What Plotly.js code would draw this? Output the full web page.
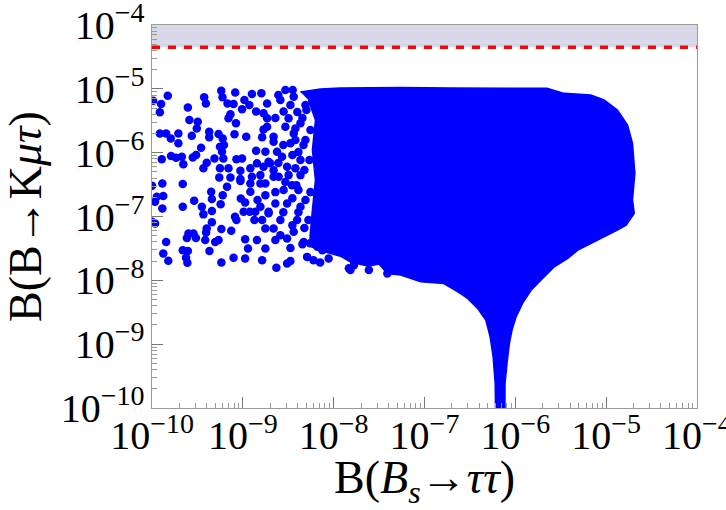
<!DOCTYPE html>
<html>
<head>
<meta charset="utf-8">
<script src="https://cdn.plot.ly/plotly-3.0.1.min.js"></script>
<style>html,body{margin:0;padding:0;background:#fff;}#chart{width:726px;height:510px;}</style>
</head>
<body>
<div id="chart"></div>
<script>
// Axis extent and experimental upper limit on B(B→Kμτ)
var axisMin = 1e-10;
var axisMax = 1e-4;
var expLimit = 4.5e-5;

// Outline of the densely filled region
var denseEdgeX = [4.31e-9, 7.15e-9, 1.19e-8, 5.46e-8, 1.95e-7, 6.93e-7, 2.23e-6, 3.44e-6, 6.77e-6, 9.5e-6,
  1.33e-5, 1.72e-5, 1.95e-5, 2.07e-5, 1.95e-5, 2.04e-5, 1.66e-5, 1.33e-5, 8.0e-6, 4.87e-6,
  3.78e-6, 2.69e-6, 1.92e-6, 1.49e-6, 1.20e-6, 1.02e-6, 9.2e-7, 8.6e-7, 8.1e-7, 7.7e-7,
  7.67e-7, 6.1e-7, 6.0e-7, 5.7e-7, 5.28e-7, 4.73e-7, 3.84e-7, 2.98e-7, 2.38e-7, 1.95e-7,
  1.63e-7, 9.1e-8, 5.46e-8, 3.90e-8, 3.15e-8, 2.42e-8, 1.53e-8, 1.19e-8, 8.1e-9, 5.5e-9,
  5.5e-9, 5.83e-9, 6.3e-9, 5.83e-9, 6.3e-9, 5.27e-9];
var denseEdgeY = [8.9e-6, 9.9e-6, 1.03e-5, 1.05e-5, 1.03e-5, 1.03e-5, 1.02e-5, 8.5e-6, 8.0e-6, 6.7e-6,
  4.66e-6, 2.71e-6, 1.40e-6, 4.74e-7, 1.81e-7, 1.12e-7, 7.3e-8, 6.1e-8, 4.27e-8, 2.97e-8,
  2.2e-8, 1.63e-8, 1.01e-8, 7.0e-9, 4.35e-9, 2.68e-9, 1.66e-9, 1.03e-9, 5.0e-10, 2.42e-10,
  5e-11, 5e-11, 2.42e-10, 6.3e-10, 1.30e-9, 2.38e-9, 3.63e-9, 5.2e-9, 6.5e-9, 7.8e-9,
  8.9e-9, 9.5e-9, 1.21e-8, 1.28e-8, 1.80e-8, 1.67e-8, 1.93e-8, 2.39e-8, 2.77e-8, 3.43e-8,
  4.93e-8, 1.26e-7, 3.72e-7, 1.10e-6, 3.24e-6, 6.7e-6];

// Individually visible scan points
var sparseX = [1.03e-10, 1.49e-10, 1.26e-10, 1.22e-10, 2.48e-10, 3.75e-10, 3.92e-10, 5.78e-10, 5.97e-10, 8.24e-10,
  6.78e-10, 7.9e-10, 1.04e-9, 1.26e-9, 1.60e-9, 9.8e-10, 1.18e-9, 1.40e-9, 7.3e-10, 6.95e-10,
  8.4e-10, 1.85e-9, 1.85e-9, 2.58e-10, 3.19e-10, 3.11e-10, 1.22e-10, 1.43e-10, 1.61e-10, 1.95e-10,
  1.95e-10, 2.74e-10, 4.26e-10, 4.26e-10, 5.4e-10, 6.0e-10, 8.1e-10, 1.09e-9, 1.69e-9, 1.63e-9,
  6.2e-10, 5.6e-10, 3.47e-10, 5.9e-10, 1.40e-9, 1.77e-9, 1.28e-10, 1.62e-10, 1.84e-10, 2.13e-10,
  2.21e-10, 2.81e-10, 3.06e-10, 4.0e-10, 3.68e-10, 4.87e-10, 6.1e-10, 8.5e-10, 9.8e-10, 5.6e-10,
  6.95e-10, 9.4e-10, 1.21e-9, 1.43e-9, 1.69e-9, 1.92e-9, 1.56e-9, 5.5e-10, 7.3e-10, 9.4e-10,
  1.26e-9, 1.0e-10, 1.30e-10, 2.18e-10, 1.33e-10, 1.13e-10, 1.08e-10, 1.30e-10, 2.18e-10, 2.91e-10,
  3.54e-10, 3.68e-10, 4.56e-10, 5.7e-10, 6.0e-10, 4.56e-10, 4.48e-10, 6.7e-10, 9.4e-10, 1.21e-9,
  1.21e-9, 1.56e-9, 9.5e-10, 1.06e-9, 1.45e-9, 1.02e-9, 1.19e-9, 1.37e-9, 1.56e-9, 1.92e-9,
  8.2e-10, 8.5e-10, 1.34e-9, 1.63e-9, 1.77e-9, 1.0e-10, 1.08e-10, 4.56e-10, 4.0e-10, 5.8e-10,
  7.45e-10, 2.52e-10, 2.86e-10, 2.42e-10, 3.04e-10, 3.94e-10, 3.85e-10, 4.96e-10, 5.4e-10, 1.06e-9,
  1.43e-9, 1.77e-9, 1.14e-9, 1.43e-10, 1.33e-10, 1.51e-10, 2.18e-10, 2.48e-10, 2.37e-10, 2.45e-10,
  4.29e-10, 5.8e-10, 7.9e-10, 1.06e-9, 1.63e-9, 2.34e-9, 3.07e-9, 3.34e-9, 5.1e-9, 6.0e-9,
  7.1e-9, 8.8e-9, 1.47e-8, 1.67e-8, 2.44e-8, 3.54e-9, 3.63e-9, 1.69e-9, 1.85e-9, 2.18e-9,
  2.18e-9, 2.38e-9, 2.70e-9, 2.0e-9, 2.18e-9, 2.81e-9, 3.19e-9, 2.94e-9, 3.79e-9, 3.63e-9,
  3.34e-9, 4.31e-9, 3.07e-9, 3.19e-9, 2.48e-9, 1.77e-9, 2.18e-9, 1.77e-9, 2.28e-9, 1.92e-9,
  2.81e-9, 3.48e-9, 3.07e-9, 2.59e-9, 2.18e-9, 2.59e-9, 3.07e-9, 3.96e-9, 3.63e-9, 4.31e-9,
  4.68e-9, 5.5e-9, 6.6e-9, 7.5e-9, 4.31e-9, 4.65e-9, 4.09e-9, 4.89e-9, 4.31e-9, 3.98e-9,
  2.46e-9, 2.94e-9, 1.53e-8, 3.9e-8,
  5.01e-9, 4.53e-9, 5.55e-9, 4.89e-9, 4.09e-9, 5.41e-9, 4.76e-9, 3.88e-9, 5.55e-9, 4.89e-9,
  4.09e-9, 5.27e-9, 4.76e-9, 4.53e-9,
  2.59e-9, 3.34e-9, 2.28e-9, 3.79e-9, 2.79e-9, 3.51e-9, 2.46e-9, 3.79e-9, 2.94e-9, 2.28e-9,
  3.51e-9, 2.79e-9, 3.51e-9, 2.28e-9, 3.34e-9];
var sparseY = [6.5e-6, 7.8e-6, 5.8e-6, 4.3e-6, 5.1e-6, 7.4e-6, 5.9e-6, 9.3e-6, 7.4e-6, 8.8e-6,
  5.9e-6, 5.8e-6, 6.7e-6, 8.3e-6, 8.5e-6, 4.8e-6, 5.6e-6, 4.4e-6, 4.0e-6, 3.45e-6,
  2.9e-6, 5.9e-6, 3.45e-6, 3.24e-6, 3.05e-6, 2.4e-6, 2.0e-6, 2.0e-6, 1.67e-6, 2.0e-6,
  1.40e-6, 1.84e-6, 2.13e-6, 1.74e-6, 1.96e-6, 1.67e-6, 1.94e-6, 1.78e-6, 2.3e-6, 1.74e-6,
  1.32e-6, 1.24e-6, 1.19e-6, 1.03e-6, 1.07e-6, 1.03e-6, 7.9e-7, 8.9e-7, 8.3e-7, 8.6e-7,
  6.6e-7, 8.4e-7, 9.2e-7, 6.95e-7, 5.7e-7, 8.1e-7, 8.1e-7, 7.9e-7, 8.1e-7, 5.7e-7,
  5.7e-7, 5.2e-7, 5.7e-7, 6.8e-7, 6.0e-7, 7.2e-7, 4.45e-7, 4.1e-7, 4.1e-7, 3.86e-7,
  4.2e-7, 3.03e-7, 3.3e-7, 3.22e-7, 2.09e-7, 2.04e-7, 1.70e-7, 1.34e-7, 1.42e-7, 1.76e-7,
  1.42e-7, 1.08e-7, 1.22e-7, 1.55e-7, 2.16e-7, 1.88e-7, 2.44e-7, 2.92e-7, 3.6e-7, 3.3e-7,
  2.44e-7, 3.3e-7, 1.92e-7, 1.66e-7, 1.81e-7, 1.19e-7, 1.19e-7, 1.19e-7, 1.42e-7, 1.19e-7,
  9.9e-8, 8.8e-8, 8.8e-8, 8.8e-8, 6.5e-8, 8.3e-8, 7.8e-8, 8.1e-8, 6.5e-8, 6.35e-8,
  5.97e-8, 5.4e-8, 5.4e-8, 4.6e-8, 4.6e-8, 5.6e-8, 4.27e-8, 4.0e-8, 4.27e-8, 4.4e-8,
  4.27e-8, 3.16e-8, 3.16e-8, 4.0e-8, 2.64e-8, 2.02e-8, 2.97e-8, 2.87e-8, 2.25e-8, 1.88e-8,
  2.87e-8, 1.91e-8, 2.25e-8, 2.2e-8, 2.07e-8, 1.57e-8, 1.84e-8, 2.0e-8, 2.33e-8, 2.07e-8,
  1.91e-8, 2.2e-8, 1.54e-8, 1.73e-8, 1.45e-8, 9.6e-6, 7.5e-6, 4.13e-6, 2.55e-6, 1.78e-6,
  1.48e-6, 1.03e-6, 8.6e-7, 6.8e-7, 5.3e-7, 4.4e-6, 3.45e-6, 2.55e-6, 2.4e-6, 2.0e-6,
  1.40e-6, 2.88e-6, 6.0e-7, 4.45e-7, 4.2e-7, 3.3e-7, 4.2e-7, 2.16e-7, 1.60e-7, 1.12e-7,
  2.6e-7, 3.1e-7, 1.60e-7, 8.8e-8, 6.5e-8, 5.1e-8, 4.54e-8, 8.8e-8, 5.75e-8, 1.42e-7,
  4.0e-8, 3.8e-8, 3.35e-8, 2.97e-8, 7.7e-7, 1.32e-6, 2.6e-7, 5.6e-6, 4.45e-7, 4.33e-6,
  8.0e-6, 9.6e-6, 1.45e-8, 1.28e-8,
  4.66e-6, 3.48e-6, 2.26e-6, 1.58e-6, 1.02e-6, 7.66e-7, 5.33e-7, 3.10e-7, 2.41e-7, 1.81e-7,
  1.17e-7, 8.8e-8, 6.58e-8, 3.69e-8,
  6.67e-6, 5.57e-6, 3.48e-6, 1.58e-6, 1.32e-6, 9.2e-7, 6.9e-7, 5.7e-7, 3.46e-7, 2.41e-7,
  1.94e-7, 1.17e-7, 7.3e-8, 4.27e-8, 3.2e-8];

var blue = '#0000ff';
var serif = 'Liberation Serif, Times New Roman, serif';

var traces = [
  { // excluded region above the limit
    x: [axisMin, axisMax, axisMax, axisMin],
    y: [expLimit, expLimit, axisMax, axisMax],
    mode: 'lines', fill: 'toself', fillcolor: 'rgb(216,216,232)',
    line: {width: 0, color: 'rgba(0,0,0,0)'}, hoverinfo: 'skip', showlegend: false
  },
  { // dense region
    x: denseEdgeX, y: denseEdgeY,
    mode: 'lines', fill: 'toself', fillcolor: blue,
    line: {width: 1.5, color: blue}, hoverinfo: 'skip', showlegend: false
  },
  { // scattered points
    x: sparseX, y: sparseY, mode: 'markers', type: 'scatter',
    marker: {size: 8.5, color: blue, line: {width: 0}}, showlegend: false
  },
  { // experimental limit
    x: [axisMin, axisMax], y: [expLimit, expLimit],
    mode: 'lines', line: {color: '#ff0000', width: 3.5, dash: '8px,8px'},
    hoverinfo: 'skip', showlegend: false
  }
];

var axisCommon = {
  type: 'log', dtick: 1, exponentformat: 'power', showexponent: 'all',
  ticks: 'inside', ticklen: 11, tickwidth: 1, tickcolor: '#777',
  showline: true, linecolor: '#9a9a9a', linewidth: 1, mirror: true,
  showgrid: false, zeroline: false, ticklabeloverflow: 'allow',
  tickfont: {family: serif, size: 32, color: '#000'},
  minor: {ticks: 'inside', ticklen: 5, tickwidth: 1, tickcolor: '#999', dtick: 'D1', showgrid: false}
};

var lo = Math.log10(axisMin) - 0.0002;
var hi = Math.log10(axisMax) + 0.0002;

var layout = {
  width: 726, height: 510,
  margin: {l: 152, r: 29, t: 25, b: 102},
  paper_bgcolor: '#fff', plot_bgcolor: '#fff',
  showlegend: false,
  xaxis: Object.assign({}, axisCommon, {
    range: [lo, hi], ticklabelstandoff: -6,
    title: {text: 'B(<i>B<sub>s</sub></i>→<i>ττ</i>)', font: {family: serif, size: 46, color: '#000'}, standoff: 34}
  }),
  yaxis: Object.assign({}, axisCommon, {
    range: [lo, hi],
    title: {text: 'B(B→K<i>μτ</i>)', font: {family: serif, size: 46, color: '#000'}, standoff: 14}
  })
};

Plotly.newPlot('chart', traces, layout, {displayModeBar: false, staticPlot: true});
</script>
</body>
</html>
